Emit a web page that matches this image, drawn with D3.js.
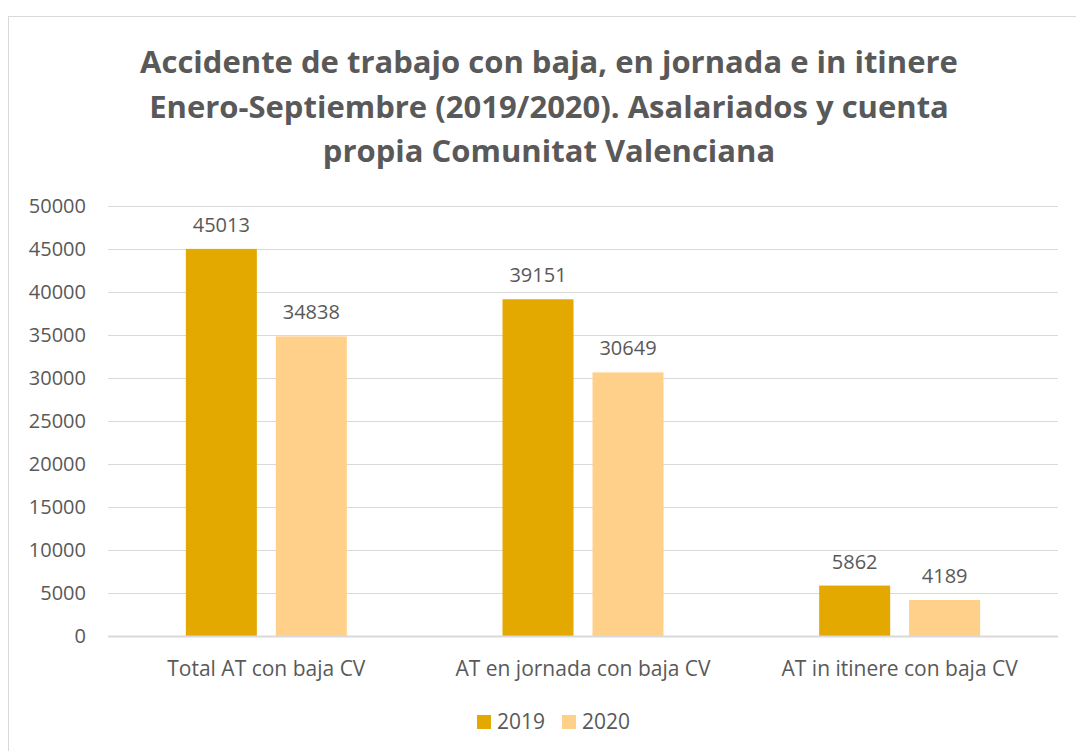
<!DOCTYPE html>
<html>
<head>
<meta charset="utf-8">
<script src="https://cdnjs.cloudflare.com/ajax/libs/d3/7.8.5/d3.min.js"></script>
<style>
  body { margin: 0; background: #fff; }
  svg text { font-family: "Open Sans", "Noto Sans", sans-serif; fill: #595959; }
  .grid line { stroke: #d9d9d9; stroke-width: 1; }
  .grid .domain { display: none; }
</style>
</head>
<body>
<div class="chart"></div>
<script>
"use strict";
// chart data
var categories = ["Total AT con baja CV", "AT en jornada con baja CV", "AT in itinere con baja CV"];
var series = ["2019", "2020"];
var values2019 = [45013, 39151, 5862];
var values2020 = [34838, 30649, 4189];
var yTicks = [0, 5000, 10000, 15000, 20000, 25000, 30000, 35000, 40000, 45000, 50000];
var titleLines = [
  "Accidente de trabajo con baja, en jornada e in itinere",
  "Enero-Septiembre (2019/2020). Asalariados y cuenta",
  "propia Comunitat Valenciana"
];
var colors = { "2019": "#e3a900", "2020": "#ffd08a" };

var W = 1076, H = 751;
var margin = { top: 206, right: 18, bottom: 115, left: 108 },
    width = W - margin.left - margin.right,
    height = H - margin.top - margin.bottom;

var svg = d3.select(".chart").append("svg")
    .attr("width", W)
    .attr("height", H);

// outer frame
svg.append("rect")
    .attr("x", 8.5).attr("y", 16.5)
    .attr("width", W + 10).attr("height", H + 10)
    .attr("fill", "none")
    .attr("stroke", "#d9d9d9");

// title
svg.append("g").attr("class", "title")
  .selectAll("text")
  .data(titleLines)
  .enter().append("text")
    .attr("x", 549)
    .attr("y", function(d, i){ return 73 + i * 44.5; })
    .attr("text-anchor", "middle")
    .style("font-size", "31px")
    .style("font-weight", "bold")
    .text(function(d){ return d; });

var g = svg.append("g")
    .attr("transform", "translate(" + margin.left + "," + margin.top + ")");

var x0 = d3.scaleBand().domain(categories).range([0, width]).padding(0);
var x1 = d3.scaleBand().domain(series).range([0, x0.bandwidth()])
    .paddingInner(0.211).paddingOuter(0.865);
var y = d3.scaleLinear().domain([0, 50000]).range([height, 0]);

// gridlines
g.append("g").attr("class", "grid")
  .call(d3.axisLeft(y).tickValues(yTicks).tickSize(-width).tickFormat(""));

// y tick labels
g.append("g").attr("class", "ylabels")
  .selectAll("text")
  .data(yTicks)
  .enter().append("text")
    .attr("x", -22)
    .attr("y", function(d){ return y(d); })
    .attr("dy", "0.35em")
    .attr("text-anchor", "end")
    .style("font-size", "20px")
    .text(function(d){ return d; });

var rows = categories.map(function(c, i){
  return { cat: c, vals: [{ s: "2019", v: values2019[i] }, { s: "2020", v: values2020[i] }] };
});

var groups = g.selectAll(".cat")
  .data(rows)
  .enter().append("g")
    .attr("class", "cat")
    .attr("transform", function(d){ return "translate(" + x0(d.cat) + ",0)"; });

groups.selectAll("rect")
  .data(function(d){ return d.vals; })
  .enter().append("rect")
    .attr("x", function(d){ return x1(d.s); })
    .attr("y", function(d){ return y(d.v); })
    .attr("width", x1.bandwidth())
    .attr("height", function(d){ return height - y(d.v); })
    .attr("fill", function(d){ return colors[d.s]; });

groups.selectAll(".barLbl")
  .data(function(d){ return d.vals; })
  .enter().append("text")
    .attr("class", "barLbl")
    .attr("x", function(d){ return x1(d.s) + x1.bandwidth() / 2; })
    .attr("y", function(d){ return y(d.v) - 17; })
    .attr("text-anchor", "middle")
    .style("font-size", "20px")
    .text(function(d){ return d.v; });

// baseline
g.append("line")
    .attr("x1", 0).attr("x2", width)
    .attr("y1", height + 0.5).attr("y2", height + 0.5)
    .attr("stroke", "#d9d9d9").attr("stroke-width", 2);

// category labels
g.append("g").selectAll("text")
  .data(categories)
  .enter().append("text")
    .attr("x", function(d){ return x0(d) + x0.bandwidth() / 2; })
    .attr("y", height + 40)
    .attr("text-anchor", "middle")
    .style("font-size", "21px")
    .text(function(d){ return d; });

// legend
var legend = svg.append("g").attr("class", "legend")
    .attr("transform", "translate(477,715)");
var item = legend.selectAll(".item")
  .data(series)
  .enter().append("g")
    .attr("class", "item")
    .attr("transform", function(d, i){ return "translate(" + (i * 85) + ",0)"; });
item.append("rect")
    .attr("width", 14).attr("height", 14)
    .attr("fill", function(d){ return colors[d]; });
item.append("text")
    .attr("x", 20).attr("y", 7)
    .attr("dy", "0.35em")
    .style("font-size", "21px")
    .text(function(d){ return d; });
</script>
</body>
</html>
